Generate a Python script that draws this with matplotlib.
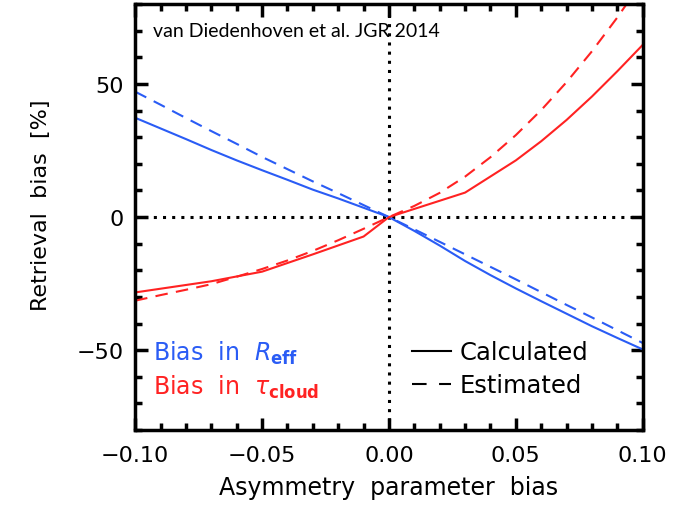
import numpy as np
import matplotlib.pyplot as plt
from matplotlib.lines import Line2D
from matplotlib.ticker import MultipleLocator

plt.rcParams['font.family'] = 'DejaVu Sans'
plt.rcParams['mathtext.fontset'] = 'dejavusans'

# asymmetry parameter bias
g_blue = [-0.10, -0.09, -0.08, -0.07, -0.06, -0.05, -0.04, -0.03, -0.02, -0.01, 0.0,
          0.01, 0.02, 0.03, 0.04, 0.05, 0.06, 0.07, 0.08, 0.09, 0.10]
reff_calc = [37.3, 33.3, 29.3, 25.2, 21.3, 17.6, 14.0, 10.3, 7.0, 3.5, 0.0,
             -5.2, -10.7, -16.5, -21.8, -26.8, -31.6, -36.3, -41.0, -45.4, -49.7]
reff_est = [47.1, 42.2, 37.2, 32.3, 27.5, 22.6, 18.0, 13.4, 9.0, 4.5, 0.0,
            -4.6, -9.3, -14.0, -18.7, -23.4, -28.2, -33.0, -37.7, -42.5, -47.3]

g_red_calc = [-0.10, -0.07, -0.05, -0.03, -0.01, 0.0, 0.03, 0.05, 0.06, 0.07, 0.08, 0.09, 0.10]
tau_calc = [-28.3, -24.1, -20.5, -14.0, -7.3, 0.0, 9.2, 21.3, 28.5, 36.5, 45.3, 54.8, 64.7]

g_red_est = [-0.10, -0.09, -0.08, -0.07, -0.06, -0.05, -0.04, -0.03, -0.02, -0.01, 0.0,
             0.01, 0.02, 0.03, 0.04, 0.05, 0.06, 0.07, 0.08, 0.09, 0.10]
tau_est = [-31.4, -29.3, -27.3, -25.2, -22.4, -19.5, -16.3, -12.7, -8.7, -4.4, 0.0,
           4.2, 9.1, 15.2, 22.5, 30.8, 40.2, 50.7, 62.3, 75.0, 88.8]

blue = '#2a5cf5'
red = '#ff2222'

fig = plt.figure(figsize=(6.86, 5.06), dpi=100)
ax = fig.add_axes([0.197, 0.148, 0.740, 0.842])

ax.axhline(0, color='black', ls=(0, (1, 2)), lw=2.2, zorder=1)
ax.axvline(0, color='black', ls=(0, (1, 2)), lw=2.2, zorder=1)

ax.plot(g_blue, reff_calc, color=blue, lw=1.5)
ax.plot(g_blue, reff_est, color=blue, lw=1.5, ls=(0, (6, 4)))
ax.plot(g_red_calc, tau_calc, color=red, lw=1.5)
ax.plot(g_red_est, tau_est, color=red, lw=1.5, ls=(0, (6, 4)))

ax.set_xlim(-0.1, 0.1)
ax.set_ylim(-80, 80)
ax.set_xticks([-0.10, -0.05, 0.00, 0.05, 0.10])
ax.set_xticklabels(['\u22120.10', '\u22120.05', '0.00', '0.05', '0.10'])
ax.set_yticks([-50, 0, 50])
ax.set_yticklabels(['\u221250', '0', '50'])
ax.xaxis.set_minor_locator(MultipleLocator(0.01))
ax.yaxis.set_minor_locator(MultipleLocator(10))
ax.tick_params(which='both', direction='in', top=True, right=True, width=2.5)
ax.tick_params(which='major', length=9, labelsize=16)
ax.tick_params(which='minor', length=5)
ax.tick_params(axis='x', which='major', pad=11)
ax.tick_params(axis='y', which='major', pad=8)
for s in ax.spines.values():
    s.set_linewidth(2.5)

ax.set_xlabel('Asymmetry  parameter  bias', fontsize=17)
ax.xaxis.set_label_coords(0.5, -0.105)
ax.set_ylabel('Retrieval  bias  [%]', fontsize=16)
ax.yaxis.set_label_coords(-0.165, 0.53)

ax.text(0.035, 0.937, 'van Diedenhoven et al. JGR 2014', transform=ax.transAxes,
        fontsize=14, family='Lato', va='center')

ax.text(0.035, 0.183, r'Bias  in  $\mathit{R}_{\mathbf{eff}}$', transform=ax.transAxes,
        fontsize=17, color=blue, va='center')
ax.text(0.035, 0.103, r'Bias  in  $\mathit{\tau}_{\mathbf{cloud}}$', transform=ax.transAxes,
        fontsize=17, color=red, va='center')

handles = [Line2D([], [], color='black', lw=1.5),
           Line2D([], [], color='black', lw=1.5, ls=(0, (7, 6)))]
ax.legend(handles, ['Calculated', 'Estimated'], loc='lower right',
          bbox_to_anchor=(0.935, 0.026), frameon=False, fontsize=17.5,
          handlelength=1.6, handletextpad=0.35, labelspacing=0.37)

fig.savefig('out.png', dpi=100)
